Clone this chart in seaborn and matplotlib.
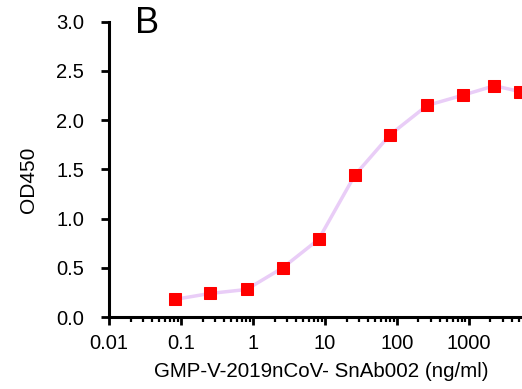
import numpy as np
import pandas as pd
import seaborn as sns
import matplotlib
matplotlib.use("Agg")
import matplotlib.pyplot as plt
from matplotlib.ticker import LogLocator, FixedLocator, FixedFormatter, NullFormatter

# concentration (ng/ml) and OD450
conc = [0.083, 0.256, 0.815, 2.59, 8.2, 26, 80, 264, 838, 2270, 5230]
od450 = [0.18, 0.24, 0.28, 0.50, 0.79, 1.44, 1.85, 2.15, 2.255, 2.35, 2.29]
xticks = [0.01, 0.1, 1, 10, 100, 1000]
xtick_labels = ["0.01", "0.1", "1", "10", "100", "1000"]

df = pd.DataFrame({"conc": conc, "od": od450})

sns.set_style("ticks")
plt.rcParams["font.family"] = ["Liberation Sans", "DejaVu Sans"]
plt.rcParams["text.color"] = "black"
plt.rcParams["axes.labelcolor"] = "black"

fig = plt.figure(figsize=(5.22, 3.89), dpi=100)
ax = fig.add_axes([0.209, 0.185, 0.791, 0.759])

sns.lineplot(data=df, x="conc", y="od", ax=ax, color="#e9cdf7", linewidth=2.5,
             marker="s", markersize=9, markerfacecolor="#ff0000",
             markeredgecolor="#ff0000", clip_on=False, zorder=3)

ax.set_xscale("log")
ax.set_xlim(0.01, 5500)
ax.set_ylim(0, 3.0)
ax.xaxis.set_major_locator(FixedLocator(xticks))
ax.xaxis.set_major_formatter(FixedFormatter(xtick_labels))
ax.xaxis.set_minor_locator(LogLocator(base=10, subs=np.arange(2, 10), numticks=20))
ax.xaxis.set_minor_formatter(NullFormatter())
ax.set_yticks([0, 0.5, 1.0, 1.5, 2.0, 2.5, 3.0])
ax.set_yticklabels(["0.0", "0.5", "1.0", "1.5", "2.0", "2.5", "3.0"])

for s in ["top", "right"]:
    ax.spines[s].set_visible(False)
for s in ["left", "bottom"]:
    ax.spines[s].set_linewidth(2.2)
    ax.spines[s].set_color("black")

ax.tick_params(axis="both", which="major", length=6, width=2, labelsize=14.5, colors="black")
ax.tick_params(axis="y", which="major", pad=12)
ax.tick_params(axis="x", which="major", pad=6)
ax.tick_params(axis="x", which="minor", length=3.5, width=1.6, colors="black")

ax.set_xlabel("GMP-V-2019nCoV- SnAb002 (ng/ml)", fontsize=14.8)
ax.xaxis.set_label_coords(0.514, -0.152)
ax.set_ylabel("OD450", fontsize=15)
ax.yaxis.set_label_coords(-0.172, 0.464)
fig.text(0.258, 0.915, "B", fontsize=26, ha="left", va="baseline", color="black")

fig.savefig("out.png", dpi=100)
